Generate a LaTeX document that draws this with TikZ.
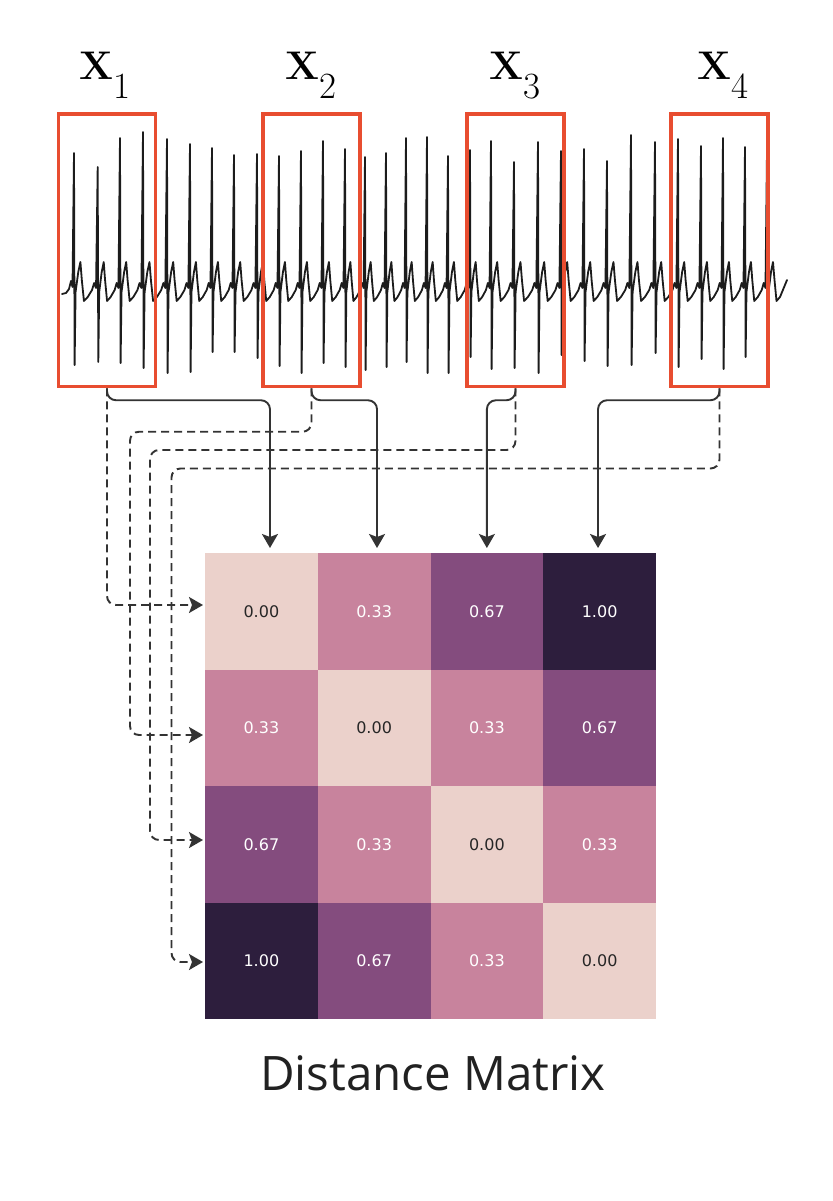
\documentclass[tikz,border=0pt]{standalone}
\usepackage{fontspec}
\newfontfamily\dejavu{DejaVu Sans}
\newfontfamily\opensans{Open Sans}
\usetikzlibrary{arrows.meta}
\definecolor{boxred}{RGB}{232,77,48}
\definecolor{ecgc}{RGB}{28,28,28}
\definecolor{connc}{RGB}{51,51,51}
\definecolor{darktxt}{RGB}{38,38,38}
\definecolor{v0}{HTML}{EBD1CB}
\definecolor{v1}{HTML}{C8839D}
\definecolor{v2}{HTML}{844C7E}
\definecolor{v3}{HTML}{2D1E3D}
\tikzset{
  ecg/.style={draw=ecgc, line width=1.8pt, line join=round, line cap=round},
  redbox/.style={draw=boxred, line width=3.5pt, minimum width=97pt, minimum height=272.5pt, inner sep=0pt},
  xlab/.style={anchor=base, inner sep=0pt, font=\fontsize{40}{48}\selectfont},
  sconn/.style={draw=connc, line width=1.9pt, rounded corners=9pt, -{Stealth[length=14pt,width=16pt,inset=3pt]}},
  dconn/.style={sconn, dash pattern=on 8pt off 5pt},
  cell/.style={minimum width=112.75pt, minimum height=116.5pt, inner sep=0pt, outer sep=0pt, font=\dejavu\fontsize{16}{18}\selectfont},
  m0/.style={fill=v0, text=darktxt},
  m1/.style={fill=v1, text=white},
  m2/.style={fill=v2, text=white},
  m3/.style={fill=v3, text=white},
}
\begin{document}
\begin{tikzpicture}[x=1pt,y=-1pt]
\useasboundingbox[fill=white] (0,0) rectangle (832,1201);

% ECG signal
\draw[ecg] (62,294) -- (66,293) -- (69,289) -- (71,281) -- (72.5,287)
  foreach \x/\t/\b/\n in {74/153/365/97.7, 97.7/167/362/120, 120/138/363/143, 143/132/368/167,
    167/139/373/190, 190/144/372/212, 212/148/352/234, 234/155/352/257, 257/154/358/279,
    279/156/366/301, 301/151/373/323, 323/141/363/345, 345/149/367/365, 365/157/370/386,
    386/153/367/406, 406/138/362/427, 427/137/373/448, 448/156/373/470, 470/150/357/491,
    491/141/369/514, 514/162/368/538, 538/142/373/561, 561/151/355/584, 584/149/361/607,
    607/161/366/631, 631/135/365/655, 655/142/353/678, 678/139/367/701, 701/146/359/723,
    723/138/369/745, 745/147/357/767}
  { -- (\x,\t) -- ({\x+0.6},\b) -- ({\x+0.067*(\n-\x)},292)
    -- ({\x+0.18*(\n-\x)},272) -- ({\x+0.27*(\n-\x)},262) -- ({\x+0.33*(\n-\x)},280)
    -- ({\x+0.42*(\n-\x)},301) -- ({\x+0.58*(\n-\x)},297) -- ({\x+0.76*(\n-\x)},290)
    -- ({\x+0.85*(\n-\x)},283) -- ({\x+0.93*(\n-\x)},288) }
  -- (767,150) -- (767.6,360) -- (768.5,292) -- (771,272) -- (773,262) -- (774.5,280)
  -- (776.5,301) -- (780,297) -- (787,280);

% window boxes
\node[redbox] (b1) at (107,250.25) {};
\node[redbox] (b2) at (311.5,250.25) {};
\node[redbox] (b3) at (515.5,250.25) {};
\node[redbox] (b4) at (719.5,250.25) {};

% labels
\node[xlab] (l1) at (105,79.5) {{\bfseries X}\raisebox{-19pt}{\fontsize{37}{37}\selectfont 1}};
\node[xlab] (l2) at (310.5,79.5) {{\bfseries X}\raisebox{-19pt}{\fontsize{37}{37}\selectfont 2}};
\node[xlab] (l3) at (515,79.5) {{\bfseries X}\raisebox{-19pt}{\fontsize{37}{37}\selectfont 3}};
\node[xlab] (l4) at (723,79.5) {{\bfseries X}\raisebox{-19pt}{\fontsize{37}{37}\selectfont 4}};

% distance matrix
\foreach \r in {1,...,4}{
  \foreach \c in {1,...,4}{
    \pgfmathtruncatemacro{\d}{abs(\r-\c)}
    \node[cell, m\d] (c\r\c) at ({205+112.75*(\c-0.5)},{553+116.5*(\r-0.5)})
      {\ifcase\d\relax 0.00\or 0.33\or 0.67\or 1.00\fi};
  }
}

% solid connectors (columns)
\draw[sconn] (b1.south) -- ++(0,12) -| ([xshift=8.6pt,yshift=5pt]c11.north);
\draw[sconn] (b2.south) -- ++(0,12) -| ([xshift=2.9pt,yshift=5pt]c12.north);
\draw[sconn] (b3.south) -- ++(0,12) -| ([xshift=0pt,yshift=5pt]c13.north);
\draw[sconn] (b4.south) -- ++(0,12) -| ([xshift=-1.6pt,yshift=5pt]c14.north);

% dashed connectors (rows)
\draw[dconn] (b1.south) |- ([xshift=-2pt,yshift=6.25pt]c11.west);
\draw[dconn] (b2.south) |- (130,431.75) |- ([xshift=-2pt,yshift=-7.25pt]c21.west);
\draw[dconn] (b3.south) |- (150,450) |- ([xshift=-2pt,yshift=4.25pt]c31.west);
\draw[dconn] (b4.south) |- (171.5,468.5) |- ([xshift=-2pt,yshift=-1.25pt]c41.west);

% title
\node[anchor=base, inner sep=0pt, text=black!87, font=\opensans\fontsize{47.5}{52}\selectfont] (title) at (433,1090) {Distance Matrix};
\end{tikzpicture}
\end{document}
